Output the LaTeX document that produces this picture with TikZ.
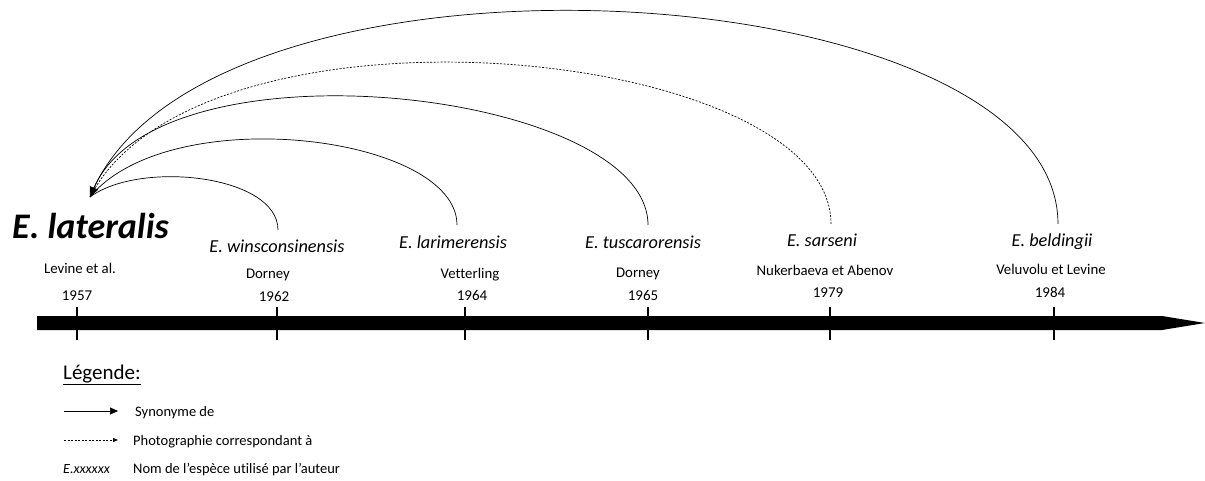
\documentclass[tikz,border=0pt]{standalone}
\usepackage{fontspec}
\setmainfont{Carlito}[Ligatures=NoCommon]
\usetikzlibrary{arrows.meta}
\begin{document}
\begin{tikzpicture}[x=1pt,y=-1pt,
  species/.style={font=\fontsize{18.3}{21}\selectfont\itshape, inner sep=0pt, anchor=base},
  author/.style={font=\fontsize{14.8}{17}\selectfont, inner sep=0pt, anchor=base},
  yearlbl/.style={font=\fontsize{15}{17}\selectfont, inner sep=0pt, anchor=base},
  tickmark/.style={line width=2.6pt},
  arc/.style={line width=0.7pt},
  syn/.style={arc, -{Triangle[length=8pt,width=7pt]}},
  photoarc/.style={arc, dash pattern=on 2pt off 1.5pt},
  legtext/.style={font=\fontsize{14.5}{17}\selectfont, anchor=base west, inner sep=0pt}]
\useasboundingbox (0,0) rectangle (1205,481);
\fill[white] (0,0) rectangle (1205,481);

% time axis
\fill (37,316) -- (1162,316) -- (1205,323) -- (1162,330) -- (37,330) -- cycle;
\foreach \x in {77,277,465,648,830,1054}
  \draw[tickmark] (\x,307) -- (\x,340);

% reference species
\node[font=\fontsize{36}{40}\selectfont\bfseries\itshape, inner sep=0pt, anchor=base west] (lat) at (12,239) {E. lateralis};
\coordinate (tip) at (90,197);
\node[author] (a57) at (80,273) {Levine et al.};
\node[yearlbl] (y57) at (77,300) {1957};

% later names
\node[species] (win) at (277,253) {E. winsconsinensis};
\node[author] (a62) at (268,279) {Dorney};
\node[yearlbl] (y62) at (274,301) {1962};

\node[species] (lar) at (453,248) {E. larimerensis};
\node[author] (a64) at (470,279) {Vetterling};
\node[yearlbl] (y64) at (472,300) {1964};

\node[species] (tus) at (643,248) {E. tuscarorensis};
\node[author] (a65) at (638,277) {Dorney};
\node[yearlbl] (y65) at (643,300) {1965};

\node[species] (sar) at (822,247) {E. sarseni};
\node[author] (a79) at (825,276) {Nukerbaeva et Abenov};
\node[yearlbl] (y79) at (828,298) {1979};

\node[species] (bel) at (1052,247) {E. beldingii};
\node[author] (a84) at (1051,275) {Veluvolu et Levine};
\node[yearlbl] (y84) at (1050,298) {1984};

% arc start points above the names
\coordinate (cw) at (278,230);
\coordinate (cl) at (457,225);
\coordinate (ct) at (648,225);
\coordinate (cs) at (831,224);
\coordinate (cb) at (1058,224);

% arcs meeting at one arrowhead
\draw[arc] (cw) .. controls (278,175) and (140,160) .. (tip);
\draw[arc] (cl) .. controls (457,135) and (170,100) .. (tip);
\draw[photoarc] (cs) .. controls (831,45) and (200,-15) .. (tip);
\draw[arc] (cb) .. controls (1058,-30) and (200,-80) .. (tip);
\draw[arc, -{Triangle[length=10pt,width=9pt]}] (ct) .. controls (648,90) and (160,35) .. (tip);

% legend
\node[font=\fontsize{21}{24}\selectfont, inner sep=0pt, anchor=base west] (leg) at (63,379) {\underline{Légende:}};
\coordinate (l1a) at (64,411);
\coordinate (l1b) at (118,411);
\draw[syn] (l1a) -- (l1b);
\node[legtext] (s1) at (135,416) {Synonyme de};
\coordinate (l2a) at (64,440);
\coordinate (l2b) at (118,440);
\draw[photoarc, -{Triangle[length=5pt,width=4pt]}] (l2a) -- (l2b);
\node[legtext] (s2) at (133,445) {Photographie correspondant à};
\node[legtext, font=\fontsize{14}{17}\selectfont\itshape] (s3a) at (63,473) {E.xxxxxx};
\node[legtext] (s3) at (133,473) {Nom de l’espèce utilisé par l’auteur};
\end{tikzpicture}
\end{document}
